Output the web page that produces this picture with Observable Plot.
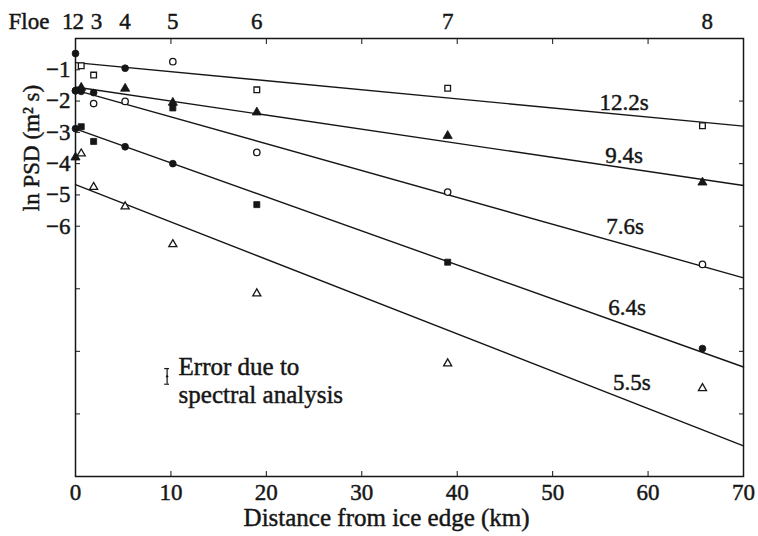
<!DOCTYPE html>
<html><head><meta charset="utf-8">
<script src="https://cdn.jsdelivr.net/npm/d3@7"></script>
<script src="https://cdn.jsdelivr.net/npm/@observablehq/plot@0.6"></script>
<style>
body{margin:0;background:#fff;}
svg text{stroke:#161616;stroke-width:0.45px;}
</style></head><body><div id="chart"></div>
<script>
// ---- data ----
const periods = ["12.2s", "9.4s", "7.6s", "6.4s", "5.5s"];
const floes = [1, 2, 3, 4, 5, 6, 7, 8];
const floeDistance = [0, 0.6, 1.9, 5.2, 10.2, 19.0, 39.0, 65.7];      // km
const floeLabelX = [-0.8, 0.3, 2.2, 5.2, 10.2, 19.0, 39.0, 66.2];     // km, where the floe numbers are printed

// ln PSD per floe for each wave period
const psd122 = [-0.48, -0.87, -1.17, -0.95, -0.74, -1.64, -1.59, -2.79];
const psd94  = [-1.67, -1.57, -1.73, -1.60, -2.05, -2.36, -3.11, -4.60];
const psd76  = [-1.67, -1.69, -2.08, -2.01, -2.22, -3.64, -4.91, -7.22];
const psd64  = [-2.88, -2.82, -3.29, -3.46, -4.00, -5.31, -7.15, -9.91];
const psd55  = [-3.80, -3.68, -4.75, -5.37, -6.58, -8.15, -10.39, -11.18];

// marker of each point: f/o = filled/open, s/c/t = square/circle/triangle
const mark122 = ["fc", "os", "os", "fc", "oc", "os", "os", "os"];
const mark94  = ["fc", "ft", "fc", "ft", "ft", "ft", "ft", "ft"];
const mark76  = ["fc", "fc", "oc", "oc", "fs", "oc", "oc", "oc"];
const mark64  = ["fc", "fs", "fs", "fc", "fc", "fs", "fs", "fc"];
const mark55  = ["ft", "ot", "ot", "ot", "ot", "ot", "ot", "ot"];

// fitted lines: value at 0 km and at 70 km
const fitDistance = [0, 70];
const lineStart = [-0.77, -1.55, -1.65, -2.89, -4.67];
const lineEnd   = [-2.80, -4.70, -7.65, -10.50, -13.02];

// line labels (km, ln PSD)
const labelX = [57.5, 57.5, 57.6, 57.8, 58.3];
const labelY = [-2.05, -3.74, -6.00, -8.59, -11.00];

// error bar annotation
const errX = 9.6, errCap = 0.25;
const errLow = -11.05, errMid = -10.8, errHigh = -10.55;
const errText = "Error due to\nspectral analysis";
const errTextX = 10.8, errTextY = -10.92;

// axes
const xTicks = [0, 10, 20, 30, 40, 50, 60, 70];
const xTopTicks = [10, 20, 30, 40, 50, 60];
const yTicksLeft = [-1, -2, -3, -4, -5, -6, -8, -10, -12];
const yLabeled = [-1, -2, -3, -4, -5, -6];
const yTicksRight = [-2, -4, -6, -8, -10, -12];
const xLabel = "Distance from ice edge (km)";
const xLabelAt = 32.6;
const yLabel = "ln PSD (m² s)";
const yLabelAt = -3.5;

// ---- build tables ----
const series = [psd122, psd94, psd76, psd64, psd55];
const marks = [mark122, mark94, mark76, mark64, mark55];
const points = [];
periods.forEach((p, i) => floeDistance.forEach((d, j) => points.push({
  period: p, floe: floes[j], distance: d, psd: series[i][j], marker: marks[i][j]
})));
const fitLines = periods.flatMap((p, i) => [
  {period: p, distance: fitDistance[0], psd: lineStart[i]},
  {period: p, distance: fitDistance[1], psd: lineEnd[i]}
]);
const shapeName = {s: "square", c: "circle", t: "triangle"};
const ink = "#161616";
const font = "Liberation Serif";
const fs = 23;
const fsBig = 25;

const chart = Plot.plot({
  width: 758,
  height: 536,
  marginLeft: 75,
  marginRight: 15,
  marginTop: 38,
  marginBottom: 60,
  style: {fontFamily: font, fontSize: fs + "px", background: "white", color: ink},
  x: {domain: [0, 70]},
  y: {domain: [-14, 0]},
  symbol: {domain: ["square", "circle", "triangle"], range: ["square", "circle", "triangle"]},
  marks: [
    Plot.frame({stroke: ink, strokeWidth: 1.5}),
    Plot.axisX({anchor: "bottom", ticks: xTicks, tickSize: -5, tickPadding: 12, fontSize: fs, label: null, stroke: ink}),
    Plot.axisX({anchor: "top", ticks: xTopTicks, tickSize: -5, tickFormat: () => "", label: null, stroke: ink}),
    Plot.axisY({anchor: "left", ticks: yTicksLeft, tickSize: -5, tickPadding: 10, fontSize: fs, label: null, stroke: ink,
      tickFormat: d => yLabeled.includes(d) ? "\u2212" + Math.abs(d) : ""}),
    Plot.axisY({anchor: "right", ticks: yTicksRight, tickSize: -5, tickFormat: () => "", label: null, stroke: ink}),
    Plot.line(fitLines, {x: "distance", y: "psd", z: "period", stroke: ink, strokeWidth: 1.4}),
    Plot.dot(points.filter(d => d.marker[0] === "o"), {
      x: "distance", y: "psd", symbol: d => shapeName[d.marker[1]], r: d => d.marker[1] === "t" ? 3 : 3.4,
      fill: "white", stroke: ink, strokeWidth: 1.3
    }),
    Plot.dot(points.filter(d => d.marker[0] === "f"), {
      x: "distance", y: "psd", symbol: d => shapeName[d.marker[1]], r: 3.4, fill: ink, stroke: ink, strokeWidth: 0.8
    }),
    Plot.text(periods, {x: (d, i) => labelX[i], y: (d, i) => labelY[i], text: d => d, fontSize: fs, fill: ink}),
    // error bar
    Plot.ruleX([errX], {x: d => d, y1: errLow, y2: errHigh, stroke: ink, strokeWidth: 1.2}),
    Plot.ruleY([errLow, errHigh], {y: d => d, x1: errX - errCap, x2: errX + errCap, stroke: ink, strokeWidth: 1.2}),
    Plot.dot([errMid], {x: errX, y: d => d, r: 1.2, fill: ink}),
    Plot.text([errText], {x: errTextX, y: errTextY, text: d => d, textAnchor: "start", lineAnchor: "middle", lineHeight: 1.12, fontSize: fsBig, fill: ink}),
    // floe labels on top
    Plot.text(floes, {x: (d, i) => floeLabelX[i], text: d => String(d), frameAnchor: "top", lineAnchor: "middle", dy: -17, fontSize: fs, fill: ink}),
    Plot.text(["Floe"], {frameAnchor: "top-left", textAnchor: "start", lineAnchor: "middle", dx: -67, dy: -17, text: d => d, fontSize: fs, fill: ink}),
    // axis titles
    Plot.text([xLabel], {x: xLabelAt, text: d => d, frameAnchor: "bottom", lineAnchor: "middle", dy: 41, fontSize: fsBig, fill: ink}),
    Plot.text([{label: yLabel, y: yLabelAt}], {y: "y", text: "label", frameAnchor: "left", textAnchor: "middle", lineAnchor: "middle", rotate: -90, dx: -44, fontSize: fs, fill: ink})
  ]
});
document.getElementById("chart").appendChild(chart);
</script>
</body></html>
